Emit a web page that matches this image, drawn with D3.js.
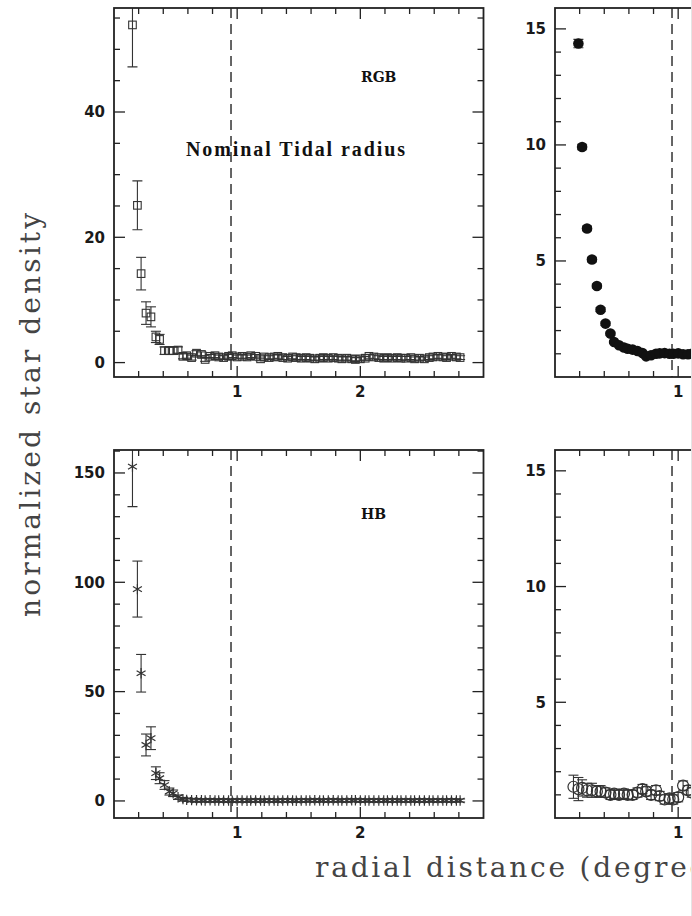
<!DOCTYPE html>
<html>
<head>
<meta charset="utf-8">
<script src="https://cdn.jsdelivr.net/npm/d3@7"></script>
<style>
  body { margin: 0; background: #fff; }
  svg { display: block; }
</style>
</head>
<body>
<div id="chart"></div>
<script>
// rayons des anneaux (degres)
var radius = [0.15,0.19,0.22,0.26,0.30,0.34,0.37,0.41,0.45,0.48,
  0.52,0.56,0.59,0.63,0.67,0.71,0.74,0.78,0.82,0.85,
  0.89,0.93,0.96,1.00,1.04,1.08,1.11,1.15,1.19,1.22,
  1.26,1.30,1.33,1.37,1.41,1.45,1.48,1.52,1.56,1.59,
  1.63,1.67,1.70,1.74,1.78,1.82,1.85,1.89,1.93,1.96,
  2.00,2.04,2.07,2.11,2.15,2.19,2.22,2.26,2.30,2.33,
  2.37,2.41,2.44,2.48,2.52,2.56,2.59,2.63,2.67,2.70,
  2.74,2.78,2.81];

var rgbDensity = [53.9,25.1,14.2,7.9,7.3,4.1,3.7,1.9,1.9,1.9,
  2.0,1.0,1.1,0.8,1.5,1.3,0.5,1.0,1.1,0.9,
  0.8,1.0,1.1,0.9,1.0,0.9,1.1,1.0,0.6,0.9,
  0.8,0.9,1.0,0.8,0.7,0.9,0.8,0.7,0.8,0.7,
  0.6,0.7,0.8,0.7,0.8,0.7,0.6,0.7,0.6,0.5,
  0.6,0.7,1.0,0.9,0.8,0.7,0.8,0.7,0.8,0.7,
  0.7,0.8,0.6,0.7,0.6,0.8,0.9,1.0,0.9,0.8,
  1.0,0.9,0.8];
var rgbError = [6.7,3.9,2.6,1.8,1.6,0.9,0.8,0.6,0.6,0.6,
  0.5,0.4,0.4,0.4,0.4,0.4,0.3,0.3,0.3,0.3,
  0.3,0.3,0.3,0.3,0.3,0.3,0.3,0.3,0.3,0.3,
  0.3,0.3,0.3,0.3,0.3,0.3,0.3,0.3,0.3,0.3,
  0.3,0.3,0.3,0.3,0.3,0.3,0.3,0.3,0.3,0.3,
  0.3,0.3,0.3,0.3,0.3,0.3,0.3,0.3,0.3,0.3,
  0.3,0.3,0.3,0.3,0.3,0.3,0.3,0.3,0.3,0.3,
  0.3,0.3,0.3];

var hbDensity = [152.9,96.9,58.4,25.6,28.7,12.7,10.4,7.3,4.3,3.5,
  1.7,0.8,0.5,0.4,0.3,0.3,0.2,0.3,0.2,0.2,
  0.2,0.2,0.1,0.2,0.2,0.1,0.2,0.2,0.2,0.1,
  0.2,0.2,0.1,0.2,0.2,0.2,0.1,0.2,0.2,0.2,
  0.3,0.2,0.2,0.2,0.3,0.2,0.2,0.2,0.3,0.3,
  0.2,0.2,0.2,0.2,0.2,0.2,0.2,0.2,0.2,0.2,
  0.2,0.2,0.2,0.2,0.2,0.2,0.2,0.2,0.2,0.2,
  0.2,0.2,0.2];
var hbError = [18.3,12.8,8.6,5.0,5.2,2.9,2.5,2.0,1.6,1.5,
  1.0,0.8,0.7,0.7,0.7,0.7,0.7,0.7,0.7,0.7,
  0.7,0.7,0.7,0.7,0.7,0.7,0.7,0.7,0.7,0.7,
  0.7,0.7,0.7,0.7,0.7,0.7,0.7,0.7,0.7,0.7,
  0.7,0.7,0.7,0.7,0.7,0.7,0.7,0.7,0.7,0.7,
  0.7,0.7,0.7,0.7,0.7,0.7,0.7,0.7,0.7,0.7,
  0.7,0.7,0.7,0.7,0.7,0.7,0.7,0.7,0.7,0.7,
  0.7,0.7,0.7];

// panneaux de droite (coupes au bord de l'image)
var fullDensity = [null,14.37,9.91,6.40,5.06,3.92,2.90,2.30,1.87,1.51,
  1.37,1.27,1.22,1.18,1.12,1.03,0.89,0.94,1.00,1.02,
  1.03,1.00,1.00,1.02,0.98,0.98,1.00];
var fullError = [null,0.18,0.12,0.10,0.10,0.09,0.08,0.07,0.06,0.06,
  0.06,0.06,0.06,0.06,0.06,0.06,0.06,0.06,0.06,0.06,
  0.06,0.06,0.06,0.06,0.06,0.06,0.06];

var openDensity = [1.35,1.25,1.30,1.20,1.20,1.15,1.15,1.10,1.00,1.05,
  1.00,1.05,1.00,1.00,1.10,1.25,1.15,1.00,1.20,0.95,
  0.80,0.85,0.80,0.90,1.40,1.20,1.10];
var openError = [0.50,0.50,0.35,0.30,0.30,0.25,0.25,0.20,0.20,0.20,
  0.20,0.20,0.20,0.20,0.20,0.20,0.20,0.20,0.20,0.20,
  0.20,0.20,0.20,0.20,0.20,0.20,0.20];

var xTicks = [1, 2];
var rgbTicks = [0, 20, 40];
var hbTicks = [0, 50, 100, 150];
var rightTicks = [5, 10, 15];
var tidalRadius = 0.95;

var W = 692, H = 916;
var panelW = 369.5;
var ink = "#222";

var svg = d3.select("#chart").append("svg")
  .attr("width", W)
  .attr("height", H)
  .attr("font-family", "'DejaVu Sans', Verdana, sans-serif");

svg.append("rect").attr("width", W).attr("height", H).attr("fill", "#fff");

function drawPanel(p) {
  var x = d3.scaleLinear().domain([0, 3]).range([p.left, p.left + panelW]);
  var y = d3.scaleLinear().domain(p.yDomain).range([p.top + p.h, p.top]);
  var g = svg.append("g");

  var clipId = "clip-" + p.id;
  svg.append("clipPath").attr("id", clipId)
    .append("rect")
    .attr("x", p.left).attr("y", p.top)
    .attr("width", panelW).attr("height", p.h);

  // ligne du rayon de maree
  g.append("line")
    .attr("x1", x(tidalRadius)).attr("x2", x(tidalRadius))
    .attr("y1", p.top).attr("y2", p.top + p.h)
    .attr("stroke", "#333")
    .attr("stroke-width", 1.5)
    .attr("stroke-dasharray", "10,6");

  // graduations x (haut et bas)
  var xt = x.ticks(15).filter(function(t) { return t > 0.01 && t < 2.99; });
  xt.forEach(function(t) {
    var major = Math.abs(t - Math.round(t)) < 1e-6;
    var len = major ? 11 : 6;
    g.append("line").attr("x1", x(t)).attr("x2", x(t))
      .attr("y1", p.top + p.h).attr("y2", p.top + p.h - len)
      .attr("stroke", ink).attr("stroke-width", 1.3);
    g.append("line").attr("x1", x(t)).attr("x2", x(t))
      .attr("y1", p.top).attr("y2", p.top + len)
      .attr("stroke", ink).attr("stroke-width", 1.3);
  });

  // graduations y (gauche et droite)
  var yt = d3.range(Math.ceil(p.yDomain[0] / p.minor) * p.minor, p.yDomain[1], p.minor);
  yt.forEach(function(t) {
    var major = Math.abs(t / p.major - Math.round(t / p.major)) < 1e-6;
    var len = major ? 11 : 6;
    if (y(t) > p.top + p.h - 0.5) return;
    g.append("line").attr("x1", p.left).attr("x2", p.left + len)
      .attr("y1", y(t)).attr("y2", y(t))
      .attr("stroke", ink).attr("stroke-width", 1.3);
    g.append("line").attr("x1", p.left + panelW).attr("x2", p.left + panelW - len)
      .attr("y1", y(t)).attr("y2", y(t))
      .attr("stroke", ink).attr("stroke-width", 1.3);
  });

  g.selectAll(".ylab").data(p.labels).enter().append("text")
    .attr("x", p.left - 9)
    .attr("y", function(d) { return y(d); })
    .attr("dy", "0.36em")
    .attr("text-anchor", "end")
    .attr("font-size", 15)
    .attr("font-weight", "bold")
    .attr("fill", "#1a1a1a")
    .text(function(d) { return d; });

  g.selectAll(".xlab").data(xTicks).enter().append("text")
    .attr("x", function(d) { return x(d); })
    .attr("y", p.top + p.h + 20)
    .attr("text-anchor", "middle")
    .attr("font-size", 15)
    .attr("font-weight", "bold")
    .attr("fill", "#1a1a1a")
    .text(function(d) { return d; });

  // points + barres d'erreur
  var pts = p.values.map(function(v, i) {
    return { r: radius[i], v: v, e: p.errors[i] };
  }).filter(function(d) { return d.v != null; });

  var dg = g.append("g").attr("clip-path", "url(#" + clipId + ")");
  var cap = 5;
  var eb = dg.selectAll(".err").data(pts).enter().append("g")
    .attr("stroke", "#333").attr("stroke-width", 1.1);
  eb.append("line")
    .attr("x1", function(d) { return x(d.r); }).attr("x2", function(d) { return x(d.r); })
    .attr("y1", function(d) { return y(d.v - d.e); }).attr("y2", function(d) { return y(d.v + d.e); });
  eb.append("line")
    .attr("x1", function(d) { return x(d.r) - cap; }).attr("x2", function(d) { return x(d.r) + cap; })
    .attr("y1", function(d) { return y(d.v - d.e); }).attr("y2", function(d) { return y(d.v - d.e); });
  eb.append("line")
    .attr("x1", function(d) { return x(d.r) - cap; }).attr("x2", function(d) { return x(d.r) + cap; })
    .attr("y1", function(d) { return y(d.v + d.e); }).attr("y2", function(d) { return y(d.v + d.e); });

  var m = dg.selectAll(".pt").data(pts).enter();
  if (p.marker === "square") {
    m.append("rect")
      .attr("x", function(d) { return x(d.r) - 3.8; })
      .attr("y", function(d) { return y(d.v) - 3.8; })
      .attr("width", 7.6).attr("height", 7.6)
      .attr("fill", "none").attr("stroke", "#333").attr("stroke-width", 1.1);
  } else if (p.marker === "star") {
    m.append("path")
      .attr("transform", function(d) { return "translate(" + x(d.r) + "," + y(d.v) + ")"; })
      .attr("d", d3.symbol(d3.symbolAsterisk, 75))
      .attr("fill", "none").attr("stroke", "#333").attr("stroke-width", 1.2);
  } else if (p.marker === "dot") {
    m.append("circle")
      .attr("cx", function(d) { return x(d.r); })
      .attr("cy", function(d) { return y(d.v); })
      .attr("r", 5.3).attr("fill", "#111");
  } else {
    m.append("circle")
      .attr("cx", function(d) { return x(d.r); })
      .attr("cy", function(d) { return y(d.v); })
      .attr("r", 5.5)
      .attr("fill", "none").attr("stroke", "#333").attr("stroke-width", 1.2);
  }

  // cadre
  g.append("rect")
    .attr("x", p.left).attr("y", p.top)
    .attr("width", panelW).attr("height", p.h)
    .attr("fill", "none").attr("stroke", ink).attr("stroke-width", 1.8);

  return g;
}

var rgb = drawPanel({ id: "rgb", left: 114, top: 8, h: 369, yDomain: [-2.3, 56.6],
  minor: 5, major: 20, labels: rgbTicks, values: rgbDensity, errors: rgbError, marker: "square" });
var hb = drawPanel({ id: "hb", left: 114, top: 450, h: 368, yDomain: [-7.8, 160.5],
  minor: 10, major: 50, labels: hbTicks, values: hbDensity, errors: hbError, marker: "star" });
drawPanel({ id: "full", left: 555, top: 8, h: 369, yDomain: [0, 15.9],
  minor: 1, major: 5, labels: rightTicks, values: fullDensity, errors: fullError, marker: "dot" });
drawPanel({ id: "open", left: 555, top: 450, h: 368, yDomain: [0, 15.9],
  minor: 1, major: 5, labels: rightTicks, values: openDensity, errors: openError, marker: "open" });

rgb.append("text")
  .attr("x", 361).attr("y", 82)
  .attr("font-family", "'DejaVu Serif', serif")
  .attr("font-weight", "bold")
  .attr("font-size", 14)
  .attr("fill", "#111")
  .text("RGB");

hb.append("text")
  .attr("x", 361).attr("y", 519)
  .attr("font-family", "'DejaVu Serif', serif")
  .attr("font-weight", "bold")
  .attr("font-size", 14)
  .attr("fill", "#111")
  .text("HB");

rgb.append("text")
  .attr("x", 186).attr("y", 156)
  .attr("font-family", "'Liberation Serif', 'Times New Roman', serif")
  .attr("font-weight", "bold")
  .attr("font-size", 20)
  .attr("textLength", 219)
  .attr("lengthAdjust", "spacing")
  .attr("fill", "#111")
  .text("Nominal Tidal radius");

// titres des axes
svg.append("text")
  .attr("transform", "translate(40,415) rotate(-90)")
  .attr("text-anchor", "middle")
  .attr("font-family", "'DejaVu Serif', serif")
  .attr("font-size", 28)
  .attr("textLength", 404)
  .attr("lengthAdjust", "spacing")
  .attr("fill", "#444")
  .text("normalized star density");

svg.append("text")
  .attr("x", 315).attr("y", 877)
  .attr("font-family", "'DejaVu Serif', serif")
  .attr("font-size", 28)
  .attr("textLength", 422)
  .attr("lengthAdjust", "spacing")
  .attr("fill", "#444")
  .text("radial distance (degrees)");

// bord de la coupe a droite
svg.append("line")
  .attr("x1", 691.5).attr("x2", 691.5).attr("y1", 0).attr("y2", H)
  .attr("stroke", "#e4e4e4").attr("stroke-width", 1);
</script>
</body>
</html>
